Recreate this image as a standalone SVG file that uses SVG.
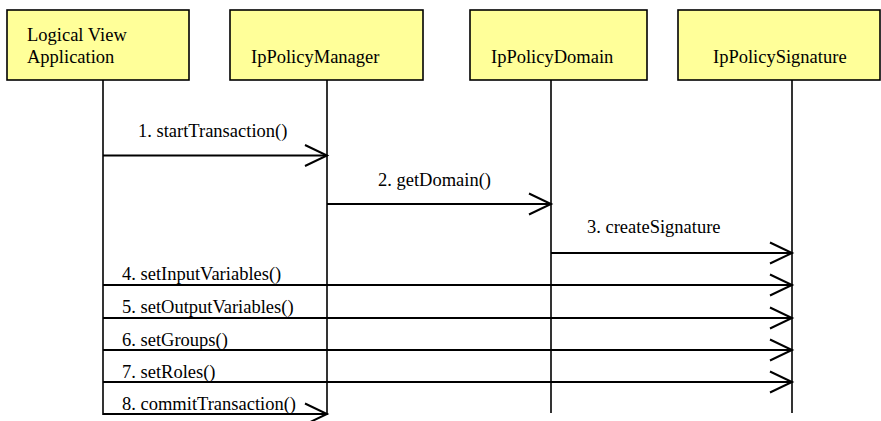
<svg xmlns="http://www.w3.org/2000/svg" width="881" height="421" viewBox="0 0 881 421">
<style>
.box{fill:#FFFF99;stroke:#000;stroke-width:1.6}
.life{stroke:#000;stroke-width:1.6;fill:none}
.msg{stroke:#000;stroke-width:2;fill:none;marker-end:url(#open)}
text{font-family:"Liberation Serif","Times New Roman",serif;font-size:18.5px;fill:#000}
</style>
<defs>
<marker id="open" markerUnits="userSpaceOnUse" markerWidth="30" markerHeight="30" viewBox="-26 -15 30 30" refX="0" refY="0" orient="auto" overflow="visible">
<path d="M-22,-10.5 L0,0 L-22,10.5" fill="none" stroke="#000" stroke-width="2"/>
</marker>
</defs>
<rect width="881" height="421" fill="#fff"/>
<g id="app">
<rect class="box" x="7" y="10" width="182" height="70"/>
<text x="27" y="41">Logical View</text>
<text x="27" y="63">Application</text>
<line class="life" x1="103" y1="80" x2="103" y2="415"/>
</g>
<g id="manager">
<rect class="box" x="230" y="10" width="193" height="70"/>
<text x="251" y="63">IpPolicyManager</text>
<line class="life" x1="327" y1="80" x2="327" y2="415"/>
</g>
<g id="domain">
<rect class="box" x="470" y="10" width="177" height="70"/>
<text x="491" y="63">IpPolicyDomain</text>
<line class="life" x1="551" y1="80" x2="551" y2="413"/>
</g>
<g id="signature">
<rect class="box" x="678" y="10" width="202" height="70"/>
<text x="713" y="63">IpPolicySignature</text>
<line class="life" x1="792" y1="80" x2="792" y2="413"/>
</g>
<g id="connectors">
<line class="msg" x1="103" y1="155.5" x2="327" y2="155.5"/>
<text x="138" y="137">1. startTransaction()</text>
<line class="msg" x1="327" y1="204" x2="551" y2="204"/>
<text x="378" y="186">2. getDomain()</text>
<line class="msg" x1="551" y1="253" x2="792" y2="253"/>
<text x="587" y="233">3. createSignature</text>
<line class="msg" x1="103" y1="285" x2="792" y2="285"/>
<text x="122" y="280">4. setInputVariables()</text>
<line class="msg" x1="103" y1="318" x2="792" y2="318"/>
<text x="122" y="313">5. setOutputVariables()</text>
<line class="msg" x1="103" y1="350" x2="792" y2="350"/>
<text x="122" y="346">6. setGroups()</text>
<line class="msg" x1="103" y1="382" x2="792" y2="382"/>
<text x="122" y="378">7. setRoles()</text>
<line class="msg" x1="103" y1="414" x2="327" y2="414"/>
<text x="122" y="410">8. commitTransaction()</text>
</g>
</svg>
